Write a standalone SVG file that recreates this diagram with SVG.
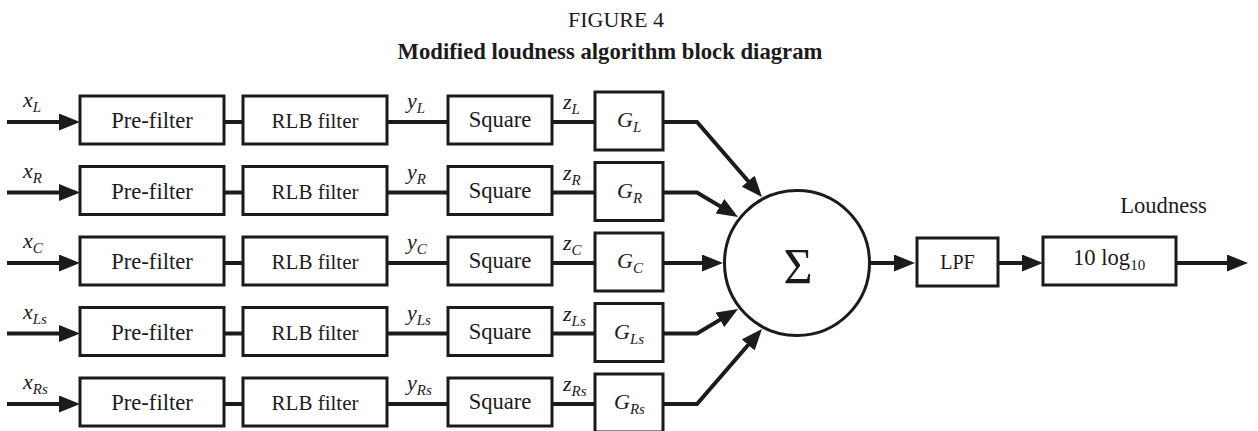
<svg xmlns="http://www.w3.org/2000/svg" width="1258" height="431" viewBox="0 0 1258 431" font-family="'Liberation Serif', 'Times New Roman', serif">
<style>
.box{fill:#fff;stroke:#1c1a1b;stroke-width:3}
.ln{fill:none;stroke:#1c1a1b;stroke-width:4}
text{font-family:'Liberation Serif','Times New Roman',serif;fill:#1c1a1b}
.lbl{font-size:22.6px;text-anchor:middle}
.rlb{font-size:21px;text-anchor:middle}
.it{font-style:italic;font-size:22px}
.sub{font-style:italic;font-size:15px}
</style>
<defs>
<marker id="ah" markerUnits="userSpaceOnUse" markerWidth="21" markerHeight="17" refX="16" refY="8.5" orient="auto">
<path d="M0,0 L21,8.5 L0,17 Z" fill="#1c1a1b"/>
</marker>
</defs>
<rect width="1258" height="431" fill="#fff"/>
<g id="title">
<text x="616" y="27" font-size="22" text-anchor="middle">FIGURE 4</text>
<text x="610" y="59" font-size="22.7" font-weight="bold" text-anchor="middle">Modified loudness algorithm block diagram</text>
</g>
<g id="connectors">
<path class="ln" d="M7,122 H75" marker-end="url(#ah)"/>
<path class="ln" d="M7,192.5 H75" marker-end="url(#ah)"/>
<path class="ln" d="M7,263 H75" marker-end="url(#ah)"/>
<path class="ln" d="M7,333.5 H75" marker-end="url(#ah)"/>
<path class="ln" d="M7,404 H75" marker-end="url(#ah)"/>
<path class="ln" d="M224,122 H243 M387,122 H448 M552,122 H595"/>
<path class="ln" d="M224,192.5 H243 M387,192.5 H448 M552,192.5 H595"/>
<path class="ln" d="M224,263 H243 M387,263 H448 M552,263 H595"/>
<path class="ln" d="M224,333.5 H243 M387,333.5 H448 M552,333.5 H595"/>
<path class="ln" d="M224,404 H243 M387,404 H448 M552,404 H595"/>
<path class="ln" d="M663,122 H697 L758.7,193.2" marker-end="url(#ah)"/>
<path class="ln" d="M663,192.5 H697 L733.7,214.4" marker-end="url(#ah)"/>
<path class="ln" d="M663,263 H718" marker-end="url(#ah)"/>
<path class="ln" d="M663,333.5 H697 L733.7,311.6" marker-end="url(#ah)"/>
<path class="ln" d="M663,404 H697 L758.7,332.8" marker-end="url(#ah)"/>
<path class="ln" d="M870,263 H910" marker-end="url(#ah)"/>
<path class="ln" d="M998,263 H1038" marker-end="url(#ah)"/>
<path class="ln" d="M1176,263 H1243" marker-end="url(#ah)"/>
</g>
<g id="inputs">
<text class="it" x="23" y="107">x<tspan class="sub" dy="5">L</tspan></text>
<text class="it" x="23" y="177.5">x<tspan class="sub" dy="5">R</tspan></text>
<text class="it" x="23" y="248">x<tspan class="sub" dy="5">C</tspan></text>
<text class="it" x="23" y="318.5">x<tspan class="sub" dy="5">Ls</tspan></text>
<text class="it" x="23" y="389">x<tspan class="sub" dy="5">Rs</tspan></text>
</g>
<g id="prefilter-L"><rect class="box" x="80" y="96" width="144" height="48"/><text class="lbl" x="152" y="128">Pre-filter</text></g>
<g id="prefilter-R"><rect class="box" x="80" y="166.5" width="144" height="48"/><text class="lbl" x="152" y="198.5">Pre-filter</text></g>
<g id="prefilter-C"><rect class="box" x="80" y="237" width="144" height="48"/><text class="lbl" x="152" y="269">Pre-filter</text></g>
<g id="prefilter-Ls"><rect class="box" x="80" y="307.5" width="144" height="48"/><text class="lbl" x="152" y="339.5">Pre-filter</text></g>
<g id="prefilter-Rs"><rect class="box" x="80" y="378" width="144" height="48"/><text class="lbl" x="152" y="410">Pre-filter</text></g>
<g id="rlb-L"><rect class="box" x="243" y="96" width="144" height="48"/><text class="rlb" x="315" y="128">RLB filter</text></g>
<g id="rlb-R"><rect class="box" x="243" y="166.5" width="144" height="48"/><text class="rlb" x="315" y="198.5">RLB filter</text></g>
<g id="rlb-C"><rect class="box" x="243" y="237" width="144" height="48"/><text class="rlb" x="315" y="269">RLB filter</text></g>
<g id="rlb-Ls"><rect class="box" x="243" y="307.5" width="144" height="48"/><text class="rlb" x="315" y="339.5">RLB filter</text></g>
<g id="rlb-Rs"><rect class="box" x="243" y="378" width="144" height="48"/><text class="rlb" x="315" y="410">RLB filter</text></g>
<g id="y-labels">
<text class="it" x="407" y="108">y<tspan class="sub" dy="5">L</tspan></text>
<text class="it" x="407" y="178.5">y<tspan class="sub" dy="5">R</tspan></text>
<text class="it" x="407" y="249">y<tspan class="sub" dy="5">C</tspan></text>
<text class="it" x="407" y="319.5">y<tspan class="sub" dy="5">Ls</tspan></text>
<text class="it" x="407" y="390">y<tspan class="sub" dy="5">Rs</tspan></text>
</g>
<g id="square-L"><rect class="box" x="448" y="96" width="104" height="48"/><text class="lbl" x="500" y="127">Square</text></g>
<g id="square-R"><rect class="box" x="448" y="166.5" width="104" height="48"/><text class="lbl" x="500" y="197.5">Square</text></g>
<g id="square-C"><rect class="box" x="448" y="237" width="104" height="48"/><text class="lbl" x="500" y="268">Square</text></g>
<g id="square-Ls"><rect class="box" x="448" y="307.5" width="104" height="48"/><text class="lbl" x="500" y="338.5">Square</text></g>
<g id="square-Rs"><rect class="box" x="448" y="378" width="104" height="48"/><text class="lbl" x="500" y="409">Square</text></g>
<g id="z-labels">
<text class="it" x="563" y="109">z<tspan class="sub" dy="5">L</tspan></text>
<text class="it" x="563" y="179.5">z<tspan class="sub" dy="5">R</tspan></text>
<text class="it" x="563" y="250">z<tspan class="sub" dy="5">C</tspan></text>
<text class="it" x="563" y="320.5">z<tspan class="sub" dy="5">Ls</tspan></text>
<text class="it" x="563" y="391">z<tspan class="sub" dy="5">Rs</tspan></text>
</g>
<g id="gain-L"><rect class="box" x="595" y="92" width="68" height="58"/><text class="it" x="617" y="127">G<tspan class="sub" dy="5">L</tspan></text></g>
<g id="gain-R"><rect class="box" x="595" y="162.5" width="68" height="58"/><text class="it" x="617" y="197.5">G<tspan class="sub" dy="5">R</tspan></text></g>
<g id="gain-C"><rect class="box" x="595" y="233" width="68" height="58"/><text class="it" x="617" y="268">G<tspan class="sub" dy="5">C</tspan></text></g>
<g id="gain-Ls"><rect class="box" x="595" y="303.5" width="68" height="58"/><text class="it" x="614" y="338.5">G<tspan class="sub" dy="5">Ls</tspan></text></g>
<g id="gain-Rs"><rect class="box" x="595" y="374" width="68" height="58"/><text class="it" x="614" y="409">G<tspan class="sub" dy="5">Rs</tspan></text></g>
<g id="sum"><circle cx="797" cy="263" r="72.5" fill="#fff" stroke="#1c1a1b" stroke-width="3"/><text x="798" y="283" font-size="50" text-anchor="middle">Σ</text></g>
<g id="lpf"><rect class="box" x="917" y="238" width="81" height="48"/><text x="957.5" y="269" font-size="20" text-anchor="middle">LPF</text></g>
<g id="log"><rect class="box" x="1043" y="237" width="133" height="48"/><text x="1073" y="265" font-size="22.6">10 log<tspan font-size="15" dy="5">10</tspan></text></g>
<g id="output"><text x="1163.5" y="213" font-size="22.6" text-anchor="middle">Loudness</text></g>
</svg>
